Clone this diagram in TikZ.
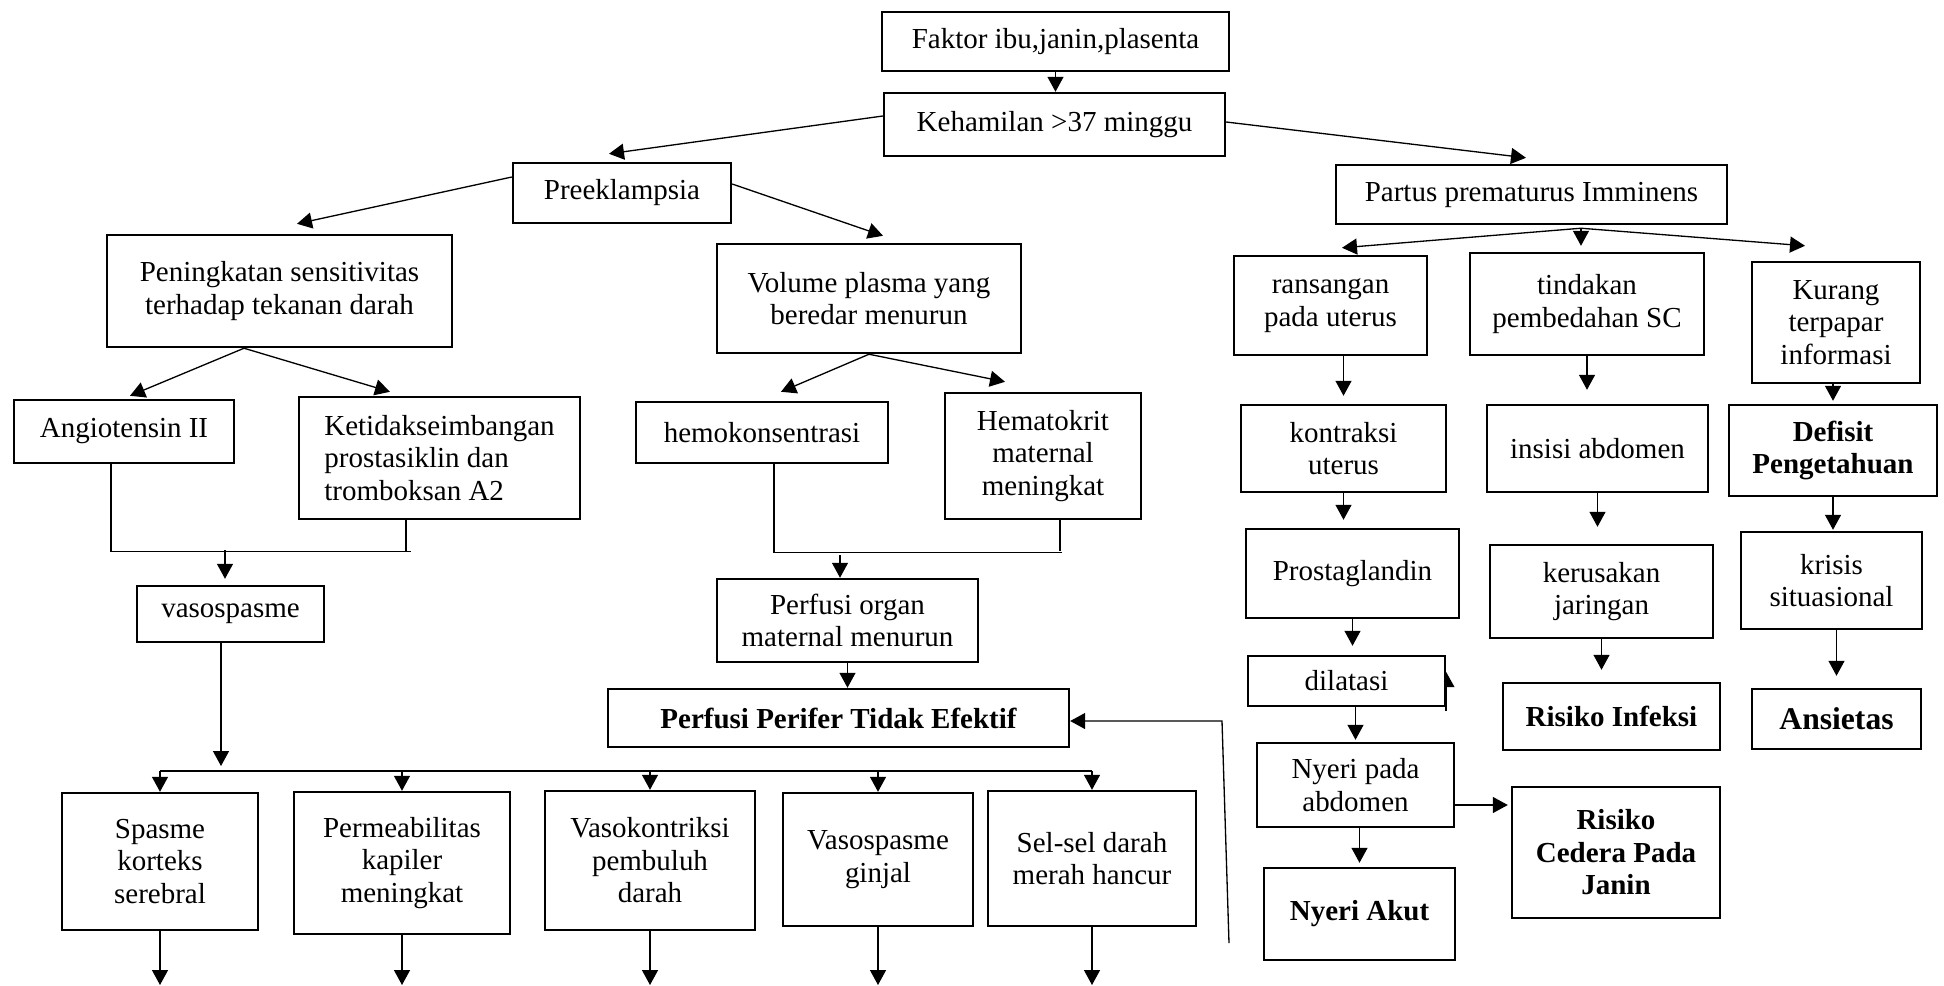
\documentclass[tikz,border=0pt]{standalone}
\usepackage{fontspec}
\setmainfont{Liberation Serif}
\usetikzlibrary{arrows.meta,backgrounds}
\newcommand\nodefont{\fontsize{16.5}{18.5}\selectfont}
\begin{document}
\begin{tikzpicture}[x=0.02cm,y=-0.02cm,
  box/.style={draw,line width=1.4pt,fill=white,inner sep=0pt,align=center,font=\nodefont},
  diag/.style={box,font=\nodefont\bfseries},
  link/.style={line width=0.75pt},
  arr/.style={link,-{Triangle[length=0.3cm,width=0.32cm]}}]
  \useasboundingbox (0,0) rectangle (1944,985);

  \node[box,minimum width=6.94cm,minimum height=1.18cm] (faktor) at (1055.5,41.5) {Faktor ibu,janin,plasenta};
  \node[box,minimum width=6.82cm,minimum height=1.26cm] (hamil) at (1054.5,124.5) {Kehamilan >37 minggu};
  \node[box,minimum width=4.36cm,minimum height=1.2cm] (pre) at (622,193) {Preeklampsia};
  \node[box,minimum width=7.82cm,minimum height=1.18cm] (partus) at (1531.5,194.5) {Partus prematurus Imminens};

  \node[box,minimum width=6.9cm,minimum height=2.24cm] (sens) at (279.5,291) {Peningkatan sensitivitas\\terhadap tekanan darah};
  \node[box,minimum width=6.08cm,minimum height=2.18cm] (volume) at (869,298.5) {Volume plasma yang\\beredar menurun};
  \node[box,minimum width=3.86cm,minimum height=1.98cm] (rans) at (1330.5,305.5) {ransangan\\pada uterus};
  \node[box,minimum width=4.68cm,minimum height=2.04cm] (tindak) at (1587,304) {tindakan\\pembedahan SC};
  \node[box,minimum width=3.36cm,minimum height=2.42cm] (kurang) at (1836,322.5) {Kurang\\terpapar\\informasi};

  \node[box,minimum width=4.4cm,minimum height=1.26cm] (angio) at (124,431.5) {Angiotensin II};
  \node[box,align=left,minimum width=5.62cm,minimum height=2.44cm] (ketidak) at (439.5,458) {Ketidakseimbangan\\prostasiklin dan\\tromboksan A2};
  \node[box,minimum width=5.04cm,minimum height=1.22cm] (hemo) at (762,432.5) {hemokonsentrasi};
  \node[box,minimum width=3.92cm,minimum height=2.52cm] (hemato) at (1043,456) {Hematokrit\\maternal\\meningkat};
  \node[box,minimum width=4.1cm,minimum height=1.74cm] (kontraksi) at (1343.5,448.5) {kontraksi\\uterus};
  \node[box,minimum width=4.42cm,minimum height=1.74cm] (insisi) at (1597.5,448.5) {insisi abdomen};
  \node[diag,minimum width=4.16cm,minimum height=1.82cm] (defisit) at (1833,450.5) {Defisit\\Pengetahuan};

  \node[box,minimum width=3.74cm,minimum height=1.12cm] (vaso) at (230.5,614) {vasospasme};
  \node[box,minimum width=5.22cm,minimum height=1.66cm] (porgan) at (847.5,620.5) {Perfusi organ\\maternal menurun};
  \node[box,minimum width=4.26cm,minimum height=1.78cm] (prost) at (1352.5,573.5) {Prostaglandin};
  \node[box,minimum width=4.46cm,minimum height=1.86cm] (kerusak) at (1601.5,591.5) {kerusakan\\jaringan};
  \node[box,minimum width=3.62cm,minimum height=1.94cm] (krisis) at (1831.5,580.5) {krisis\\situasional};

  \node[box,minimum width=3.94cm,minimum height=1.0cm] (dilat) at (1346.5,681) {dilatasi};
  \node[diag,minimum width=9.22cm,minimum height=1.16cm] (perifer) at (838.5,718) {Perfusi Perifer Tidak Efektif};
  \node[diag,minimum width=4.34cm,minimum height=1.34cm] (infeksi) at (1611.5,716.5) {Risiko Infeksi};
  \node[diag,font=\fontsize{18}{20}\selectfont\bfseries,minimum width=3.38cm,minimum height=1.2cm] (ansietas) at (1836.5,719) {Ansietas};
  \node[box,minimum width=3.94cm,minimum height=1.68cm] (nyeripada) at (1355.5,785) {Nyeri pada\\abdomen};
  \node[diag,minimum width=4.16cm,minimum height=2.62cm] (cedera) at (1616,852.5) {Risiko\\Cedera Pada\\Janin};
  \node[diag,minimum width=3.82cm,minimum height=1.84cm] (akut) at (1359.5,914) {Nyeri Akut};

  \node[box,minimum width=3.92cm,minimum height=2.74cm] (spasme) at (160,861.5) {Spasme\\korteks\\serebral};
  \node[box,minimum width=4.32cm,minimum height=2.84cm] (perm) at (402,863) {Permeabilitas\\kapiler\\meningkat};
  \node[box,minimum width=4.2cm,minimum height=2.78cm] (vkon) at (650,860.5) {Vasokontriksi\\pembuluh\\darah};
  \node[box,minimum width=3.8cm,minimum height=2.66cm] (vgin) at (878,859.5) {Vasospasme\\ginjal};
  \node[box,minimum width=4.16cm,minimum height=2.7cm] (sel) at (1092,858.5) {Sel-sel darah\\merah hancur};

  \coordinate (brkL) at (225,550);
  \coordinate (brkM) at (840,555);
  \coordinate (bus) at (0,771);
  \coordinate (floor) at (0,985);
  \coordinate (loopB) at (1229,943);
  \coordinate (loopT) at (1222,721);
  \coordinate (sbr) at ([xshift=-0.71cm]sens.south);
  \coordinate (pbr) at ([xshift=0.99cm,yshift=-0.06cm]partus.south);

  \draw[arr] (faktor.south) -- (faktor.south |- hamil.north);
  \draw[arr] ([yshift=0.17cm]hamil.west) -- ([xshift=-0.26cm,yshift=0.16cm]pre.north);
  \draw[arr] ([yshift=0.05cm]hamil.east) -- ([xshift=-0.11cm,yshift=0.12cm]partus.north);
  \draw[arr] ([yshift=0.32cm]pre.west) -- ([xshift=0.35cm,yshift=0.2cm]sens.north);
  \draw[arr] ([yshift=0.18cm]pre.east) -- ([xshift=0.28cm,yshift=0.14cm]volume.north);

  \draw[arr] (sbr) -- ([xshift=0.12cm,yshift=0.06cm]angio.north);
  \draw[arr] (sbr) -- ([xshift=-0.99cm,yshift=0.08cm]ketidak.north);
  \draw[arr] (volume.south) -- ([xshift=0.38cm,yshift=0.18cm]hemo.north);
  \draw[arr] (volume.south) -- ([xshift=-0.76cm,yshift=0.2cm]hemato.north);
  \draw[arr] (pbr) -- ([xshift=0.23cm,yshift=0.14cm]rans.north);
  \draw[arr,shorten >=0.12cm] (pbr) -- (pbr |- tindak.north);
  \draw[arr] (pbr) -- ([xshift=-0.62cm,yshift=0.3cm]kurang.north);

  \draw[link] ([xshift=-0.26cm]angio.south) |- ([xshift=-0.57cm,yshift=-0.62cm]ketidak.south);
  \draw[link] ([xshift=-0.67cm]ketidak.south) -- ++(0,31);
  \draw[arr,shorten >=0.12cm] (brkL) -- (brkL |- vaso.north);
  \draw[arr,shorten >=0.1cm] ([xshift=-0.19cm]vaso.south) -- ([xshift=-0.19cm]vaso.south |- bus);

  \draw[link] ([xshift=0.24cm]hemo.south) |- ([xshift=0.38cm,yshift=-0.64cm]hemato.south);
  \draw[link] ([xshift=0.34cm]hemato.south) -- ++(0,31);
  \draw[arr] (brkM) -- (brkM |- porgan.north);
  \draw[arr] (porgan.south) -- (porgan.south |- perifer.north);
  \draw[arr] (loopB) -- (loopT) -- (loopT -| perifer.east);

  \draw[link,line width=1pt] (spasme.north |- bus) -- (sel.north |- bus);
  \foreach \b in {spasme,perm,vkon,vgin,sel} {
    \draw[arr] (\b.north |- bus) -- (\b.north);
    \draw[arr] (\b.south) -- (\b.south |- floor);
  }

  \foreach \a/\b/\g in {kontraksi/prost/0.16cm,prost/dilat/0.18cm,tindak/insisi/0.28cm,insisi/kerusak/0.34cm,kerusak/infeksi/0.24cm,defisit/krisis/0.02cm} {
    \draw[arr,shorten >=\g] (\a.south) -- (\a.south |- \b.north);
  }
  \foreach \a/\b/\g in {rans/kontraksi/0.16cm,dilat/nyeripada/0.04cm,nyeripada/akut/0.08cm,kurang/defisit/0.06cm,krisis/ansietas/0.24cm} {
    \draw[arr,shorten >=\g] (\a.south -| \b.north) -- (\b.north);
  }
  \draw[arr,shorten >=0.06cm] ([yshift=-0.4cm]nyeripada.east) -- ([yshift=-0.4cm]nyeripada.east -| cedera.west);

  \begin{pgfonlayer}{background}
    \draw[arr,line width=1.2pt] ([yshift=-0.08cm]dilat.south east) -- ([yshift=0.18cm]dilat.east);
  \end{pgfonlayer}
\end{tikzpicture}
\end{document}
